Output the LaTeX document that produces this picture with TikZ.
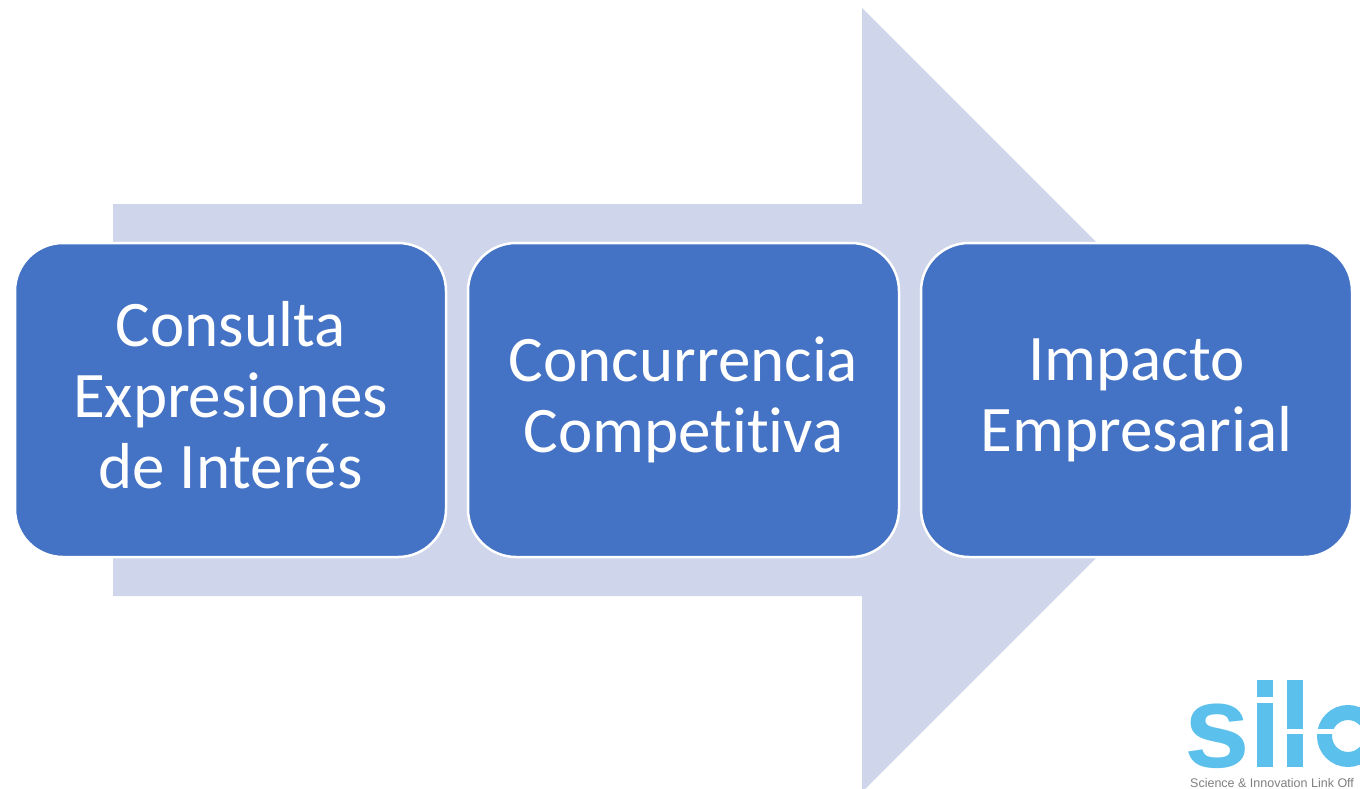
\documentclass[tikz,border=0pt]{standalone}
\usepackage{fontspec}
\setmainfont{Carlito}[Ligatures=NoCommon]
\newfontfamily\logofont{Liberation Sans}
\definecolor{boxblue}{HTML}{4472C4}
\definecolor{arrowgray}{HTML}{CFD5EA}
\definecolor{siloblue}{HTML}{5BC0EB}
\definecolor{silogray}{HTML}{7F7F7F}
\tikzset{
	stage/.style={rectangle, rounded corners=48pt, fill=boxblue, draw=white, line width=2.5pt,
		minimum width=431pt, minimum height=314pt, inner sep=0pt, text=white, align=center,
		font=\fontsize{65}{71}\selectfont},
	logobar/.style={fill=siloblue}
}

\begin{document}
\begin{tikzpicture}[x=1pt, y=-1pt]
	\useasboundingbox (0, 0) rectangle (1360, 789);
	% big arrow behind the boxes
	\fill[arrowgray] (113, 204) -- (862, 204) -- (862, 8) -- (1254, 400) -- (862, 792) -- (862, 596) -- (113, 596) -- cycle;
	\node[stage, text depth=11pt] (consulta) at (230.5, 400) {Consulta\\Expresiones\\de Interés};
	\node[stage] (concurrencia) at (683.5, 400) {Concurrencia\\Competitiva};
	\node[stage] (impacto) at (1136.5, 400) {Impacto\\Empresarial};
	% logo
	\node[anchor=base west, inner sep=0pt, text=siloblue, font=\logofont\bfseries\fontsize{118}{118}\selectfont] (siloS) at (1184, 767) {s};
	\fill[logobar] (1257, 680) rectangle (1273, 767);
	\fill[white] (1254, 697) rectangle (1276, 703);
	\fill[logobar] (1287, 680) rectangle (1303, 767);
	\draw[siloblue, line width=15pt] (1348, 736) circle (23.5);
	\fill[white] (1284, 729) rectangle (1336, 734);
	\node[anchor=base west, inner sep=0pt, text=silogray, font=\logofont\fontsize{12.5}{13}\selectfont] (silotext) at (1190, 787) {Science \& Innovation Link Off};
\end{tikzpicture}
\end{document}
